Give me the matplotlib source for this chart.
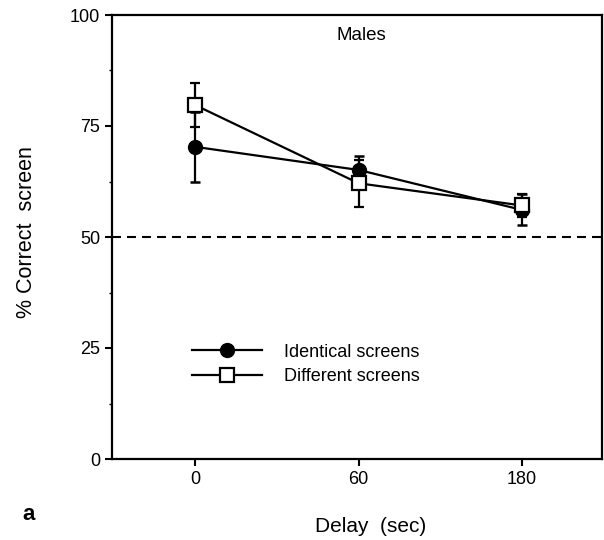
import matplotlib
matplotlib.use("Agg")
import matplotlib.pyplot as plt
from matplotlib.ticker import MultipleLocator

plt.rcParams['font.family'] = ['Liberation Sans', 'DejaVu Sans']

delays = ["0", "60", "180"]
identical = [70.3, 65.1, 56.1]
identical_err = [7.8, 3.2, 3.5]
different = [79.7, 62.1, 57.1]
different_err = [4.9, 5.3, 2.6]
chance = 50

fig = plt.figure(figsize=(6.04, 5.40), dpi=100)
ax = fig.add_axes([112/604, 81/540, 490/604, 444/540])

x = list(range(len(delays)))
ax.errorbar(x, identical, yerr=identical_err, color='black', lw=1.6,
            marker='o', ms=10, mfc='black', mec='black', capsize=3.5, capthick=1.8,
            elinewidth=1.6, label='Identical screens', zorder=3)
ax.errorbar(x, different, yerr=different_err, color='black', lw=1.6,
            marker='s', ms=9.5, mfc='white', mec='black', mew=1.6, capsize=3.5, capthick=1.8,
            elinewidth=1.6, label='Different screens', zorder=4)
ax.axhline(chance, color='black', lw=1.5, ls=(0, (4.3, 2.9)), zorder=2)

ax.set_xlim(-0.51, 2.49)
ax.set_ylim(0, 100)
ax.set_xticks(x)
ax.set_xticklabels(delays, fontsize=13)
ax.yaxis.set_major_locator(MultipleLocator(25))
ax.yaxis.set_minor_locator(MultipleLocator(12.5))
ax.tick_params(axis='both', which='major', direction='out', length=5, width=1.5, labelsize=13)
ax.tick_params(axis='y', which='minor', direction='out', length=2.5, width=1)
for s in ax.spines.values():
    s.set_linewidth(1.6)

ax.set_xlabel('Delay  (sec)', fontsize=15, labelpad=21)
ax.xaxis.label.set_x(0.527)
ax.set_ylabel('% Correct  screen', fontsize=15.5, labelpad=24)
ax.yaxis.label.set_y(0.51)
ax.text(0.509, 0.953, 'Males', transform=ax.transAxes, fontsize=13.5, ha='center', va='center')
fig.text(22/604, 1 - 514/540, 'a', fontsize=16, fontweight='bold', va='center', ha='left')

handles, labels = ax.get_legend_handles_labels()
handles = [h[0] for h in handles]
ax.legend(handles, labels, loc='upper left', bbox_to_anchor=(0.145, 0.28),
          frameon=False, fontsize=13, handlelength=3.9, handletextpad=1.2,
          labelspacing=0.4, borderpad=0, numpoints=1)

fig.savefig('out.png', dpi=100)
